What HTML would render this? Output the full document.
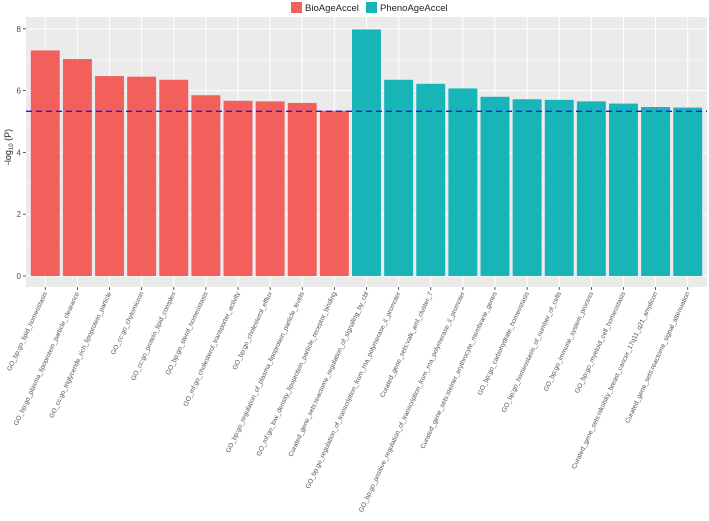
<!DOCTYPE html>
<html><head><meta charset="utf-8"><style>
body{margin:0;background:#fff;}
svg{display:block;font-family:"Liberation Sans",sans-serif;}
</style></head><body>
<svg id="chart" width="709" height="521"></svg>
<script>
const categories=["GO_bp:go_lipid_homeostasis","GO_bp:go_plasma_lipoprotein_particle_clearance","GO_cc:go_triglyceride_rich_lipoprotein_particle","GO_cc:go_chylomicron","GO_cc:go_protein_lipid_complex","GO_bp:go_sterol_homeostasis","GO_mf:go_cholesterol_transporter_activity","GO_bp:go_cholesterol_efflux","GO_bp:go_regulation_of_plasma_lipoprotein_particle_levels","GO_mf:go_low_density_lipoprotein_particle_receptor_binding","Curated_gene_sets:reactome_regulation_of_signaling_by_cbl","GO_bp:go_regulation_of_transcription_from_rna_polymerase_ii_promoter","Curated_gene_sets:valk_aml_cluster_7","GO_bp:go_positive_regulation_of_transcription_from_rna_polymerase_ii_promoter","Curated_gene_sets:steiner_erythrocyte_membrane_genes","GO_bp:go_carbohydrate_homeostasis","GO_bp:go_homeostasis_of_number_of_cells","GO_bp:go_immune_system_process","GO_bp:go_myeloid_cell_homeostasis","Curated_gene_sets:nikolsky_breast_cancer_17q11_q21_amplicon","Curated_gene_sets:reactome_signal_attenuation"];
const values=[7.3,7.02,6.47,6.45,6.35,5.85,5.67,5.65,5.6,5.35,7.98,6.35,6.22,6.07,5.8,5.72,5.7,5.65,5.58,5.47,5.45];
const groups=["BioAgeAccel","BioAgeAccel","BioAgeAccel","BioAgeAccel","BioAgeAccel","BioAgeAccel","BioAgeAccel","BioAgeAccel","BioAgeAccel","BioAgeAccel","PhenoAgeAccel","PhenoAgeAccel","PhenoAgeAccel","PhenoAgeAccel","PhenoAgeAccel","PhenoAgeAccel","PhenoAgeAccel","PhenoAgeAccel","PhenoAgeAccel","PhenoAgeAccel","PhenoAgeAccel"];
const yTicks=[0,2,4,6,8];
const threshold=5.33;
const colors={BioAgeAccel:"#F35F5B",PhenoAgeAccel:"#17B4B8"};
const NS="http://www.w3.org/2000/svg";
const svg=document.getElementById('chart');
const L=26,R=707,T=17,B=287;
const band=(R-L)/(categories.length+0.2);
const x=i=>L+band*(0.6+i);
const y=v=>276-v*30.9;
function mk(tag,attrs,parent){const e=document.createElementNS(NS,tag);for(const k in attrs)e.setAttribute(k,attrs[k]);(parent||svg).appendChild(e);return e;}
const panel=mk('rect',{x:L,y:T,width:R-L,height:B-T,fill:'#EBEBEB'});


for(let k=0;k<yTicks.length-1;k++){const m=(yTicks[k]+yTicks[k+1])/2;mk('line',{x1:L,x2:R,y1:y(m),y2:y(m),stroke:'#fff','stroke-width':0.5});}
yTicks.forEach(t=>{
 const g=mk('line',{x1:L,x2:R,y1:y(t),y2:y(t),stroke:'#fff','stroke-width':1});
 
 
 mk('line',{x1:L-3,x2:L,y1:y(t),y2:y(t),stroke:'#333','stroke-width':0.8});
 const tx=mk('text',{x:L-5,y:y(t)+3,'text-anchor':'end','font-size':8,fill:'#4d4d4d'});
 tx.textContent=t;
 
 
});
categories.forEach((c,i)=>{
 mk('line',{x1:x(i),x2:x(i),y1:T,y2:B,stroke:'#fff','stroke-width':1});
});
categories.forEach((c,i)=>{
 const w=band*0.9;
 const b=mk('rect',{x:x(i)-w/2,y:y(values[i]),width:w,height:y(0)-y(values[i]),fill:colors[groups[i]]});
 
 
 mk('line',{x1:x(i),x2:x(i),y1:B,y2:B+3,stroke:'#333','stroke-width':0.8});
 const t=mk('text',{x:x(i)+2,y:B+6,'text-anchor':'end','font-size':6.6,fill:'#555',transform:`rotate(-65 ${x(i)+2} ${B+6})`});
 t.textContent=c;
 
 
});
const th=mk('line',{x1:L,x2:R,y1:y(threshold),y2:y(threshold),stroke:'#1a1aff','stroke-width':1.3,'stroke-dasharray':'6,4'});


const yt=mk('text',{x:0,y:0,'text-anchor':'middle','font-size':9,fill:'#222',transform:`translate(11 ${(T+B)/2-5}) rotate(-90)`});
yt.innerHTML='-log<tspan font-size="6" dy="2">10</tspan><tspan dy="-2"> (P)</tspan>';


const legend=[["BioAgeAccel",291],["PhenoAgeAccel",366]];
legend.forEach(([n,lx])=>{
 const g=mk('g',{});
 
 
 mk('rect',{x:lx,y:2,width:11,height:11,fill:colors[n]},g);
 const t=mk('text',{x:lx+14,y:11,'font-size':9.5,fill:'#222'},g);
 t.textContent=n;
});
</script>
</body></html>
